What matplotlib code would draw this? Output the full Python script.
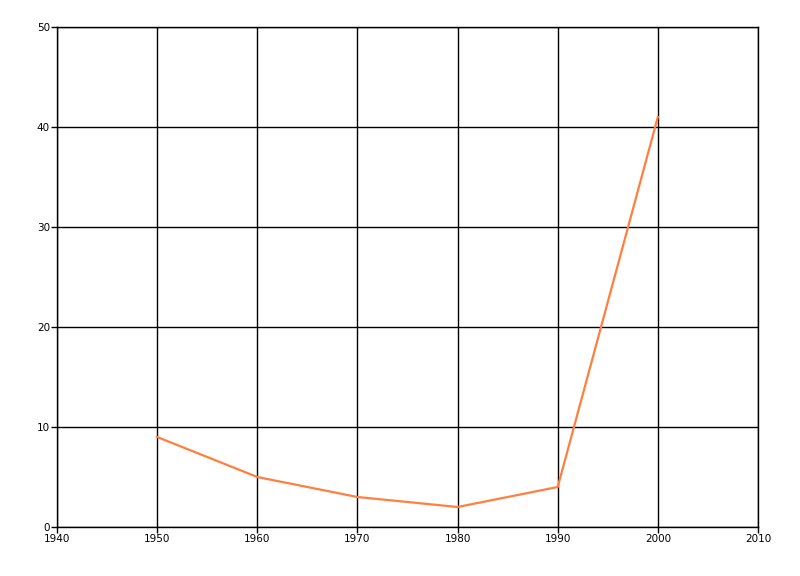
import matplotlib
matplotlib.use("Agg")
import matplotlib.pyplot as plt

# data
years = [1950, 1960, 1970, 1980, 1990, 2000]
values = [9, 5, 3, 2, 4, 41]

x_ticks = [1940, 1950, 1960, 1970, 1980, 1990, 2000, 2010]
y_ticks = [0, 10, 20, 30, 40, 50]

fig = plt.figure(figsize=(8, 5.76), dpi=100)
ax = fig.add_axes([57 / 800, 49 / 576, 701 / 800, 500 / 576])

ax.plot(years, values, color="#ff7f3f", linewidth=1.6, zorder=3)

ax.set_xlim(1940, 2010)
ax.set_ylim(0, 50)
ax.set_xticks(x_ticks)
ax.set_yticks(y_ticks)
ax.grid(True, color="black", linewidth=1.0)
for side in ("left", "bottom", "top", "right"):
    ax.spines[side].set_linewidth(1.0)
ax.tick_params(direction="out", length=4, width=1, labelsize=7.5, pad=1)

fig.savefig("out.png", dpi=100)
